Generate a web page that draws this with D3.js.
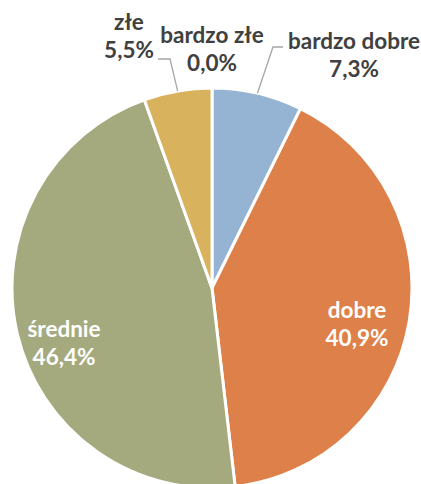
<!DOCTYPE html>
<html><head><meta charset="utf-8">
<script src="https://cdn.jsdelivr.net/npm/d3@7"></script>
<style>html,body{margin:0;padding:0;background:#fff;}svg{display:block;}</style>
</head><body>
<svg id="chart" width="421" height="484"></svg>
<script>
const categories = ["bardzo dobre", "dobre", "średnie", "złe", "bardzo złe"];
const values = [7.3, 40.9, 46.4, 5.5, 0.0];
const valueLabels = ["7,3%", "40,9%", "46,4%", "5,5%", "0,0%"];
const colors = ["#95B4D4", "#DE8049", "#A5AA7E", "#D9B25E", "#B0B0B0"];

const W = 421, H = 484;
const cx = 212, cy = 288, R = 200;
const svg = d3.select("#chart");
const g = svg.append("g").attr("transform", `translate(${cx},${cy})`);

const data = categories.map((c, i) => ({cat: c, value: values[i], label: valueLabels[i], color: colors[i]}));
const pie = d3.pie().value(d => d.value).sort(null);
const arcs = pie(data);
const arc = d3.arc().innerRadius(0).outerRadius(R);

g.selectAll("path.slice").data(arcs.filter(a => a.data.value > 0)).join("path")
  .attr("class", "slice")
  .attr("d", arc)
  .attr("fill", d => d.data.color)
  .attr("stroke", "#fff")
  .attr("stroke-width", 3)
  .attr("stroke-linejoin", "round");

// label layout (offsets relative to pie centre)
const labelPos = {
  "bardzo dobre": {x: 142, y: -239, inside: false, leader: [[61, -241], [71, -241]]},
  "dobre":        {x: 145, y: 30,   inside: true},
  "średnie":      {x: -148, y: 49,  inside: true},
  "złe":          {x: -83, y: -258, inside: false, leader: [[-42, -229], [-54, -229]]},
  "bardzo złe":   {x: 0, y: -245,   inside: false}
};

const font = "Lato, 'Open Sans', sans-serif";
const lineH = 28;

// leader lines
arcs.forEach(a => {
  const p = labelPos[a.data.cat];
  if (!p.leader) return;
  const mid = (a.startAngle + a.endAngle) / 2;
  const start = [Math.sin(mid) * R, -Math.cos(mid) * R];
  g.append("path")
    .attr("d", d3.line()([start, ...p.leader]))
    .attr("fill", "none")
    .attr("stroke", "#A6A6A6")
    .attr("stroke-width", 1.3);
});

arcs.forEach(a => {
  const p = labelPos[a.data.cat];
  const t = g.append("text")
    .attr("text-anchor", "middle")
    .attr("font-family", font)
    .attr("font-weight", 700)
    .attr("font-size", 22.5)
    .attr("fill", p.inside ? "#FFFFFF" : "#404040");
  t.append("tspan").attr("x", p.x).attr("y", p.y).text(a.data.cat);
  t.append("tspan").attr("x", p.x).attr("y", p.y + lineH).text(a.data.label);
});
</script>
</body></html>
